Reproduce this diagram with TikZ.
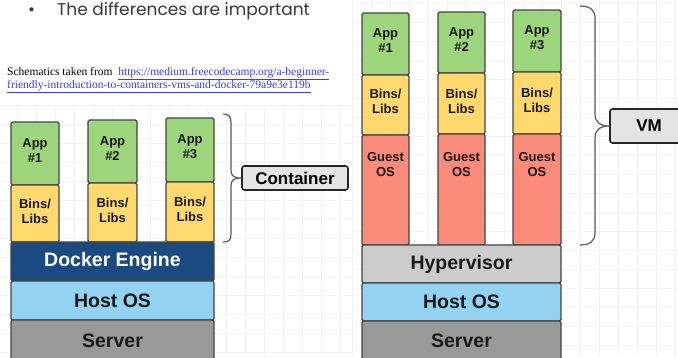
\documentclass[tikz,border=0pt]{standalone}
\usepackage{fontspec}
\setmainfont{Liberation Sans}
\newfontfamily\serifx{Liberation Serif}
\newfontfamily\gothic{Poppins}
\definecolor{appg}{HTML}{9DD57C}
\definecolor{binsy}{HTML}{FFD96E}
\definecolor{guestr}{HTML}{FA8A7A}
\definecolor{dockb}{HTML}{1A4A7F}
\definecolor{hostb}{HTML}{93D2F0}
\definecolor{servg}{HTML}{999999}
\definecolor{hypg}{HTML}{CCCCCC}
\definecolor{labg}{HTML}{E4E4E4}
\definecolor{edge}{HTML}{444444}
\definecolor{gridc}{HTML}{F2F2F2}
\definecolor{linkb}{HTML}{3A3AF0}
\begin{document}
\begin{tikzpicture}[x=1pt,y=-1pt,
  blk/.style={draw=edge,line width=1.1pt,rounded corners=1.5pt,inner sep=0pt,
    font=\bfseries,text=black!90,align=center},
  small/.style={font=\bfseries\fontsize{13}{15}\selectfont,align=center,text=black!90,inner sep=0pt},
  big/.style={font=\bfseries\fontsize{19.5}{22}\selectfont},
  brace/.style={draw=black!65,line width=1.2pt},
  tag/.style={draw=black!85,line width=1.6pt,rounded corners=2.5pt,fill=labg,inner sep=0pt,
    font=\bfseries\fontsize{17}{19}\selectfont}]
\useasboundingbox (0,0) rectangle (678,357);
\fill[white] (0,0) rectangle (678,357);
% grids
\begin{scope}
\clip (0,105) rectangle (352,357);
\foreach \i in {0,...,19} {\draw[gridc,line width=0.5pt] (\i*19-2,105) -- (\i*19-2,357);}
\foreach \j in {0,...,14} {\draw[gridc,line width=0.5pt] (0,105+\j*19) -- (352,105+\j*19);}
\end{scope}
\begin{scope}
\clip (352,0) rectangle (678,357);
\foreach \i in {0,...,18} {\draw[gridc,line width=0.5pt] (352+\i*19,0) -- (352+\i*19,357);}
\foreach \j in {0,...,19} {\draw[gridc,line width=0.5pt] (352,\j*19+3) -- (678,\j*19+3);}
\end{scope}
% title
\node[anchor=base west,text=black!78,font=\gothic\fontsize{17}{20}\selectfont,inner sep=0] (bul) at (28,15) {\textbullet};
\node[anchor=base west,text=black!78,font=\gothic\fontsize{17}{20}\selectfont,inner sep=0] (title) at (57,15) {The differences are important};
% source
\node[anchor=base west,inner sep=0,font=\serifx\fontsize{11.5}{13}\selectfont] (src1) at (7,75) {Schematics taken from\ \ \textcolor{linkb}{\underline{https://medium.freecodecamp.org/a-beginner-}}};
\node[anchor=base west,inner sep=0,font=\serifx\fontsize{11.5}{13}\selectfont,text=linkb] (src2) at (7,88) {\underline{friendly-introduction-to-containers-vms-and-docker-79a9e3e119b}};
% ---- container side ----
\node[blk,fill=appg,minimum width=48,minimum height=63] (ca1) at (35,153.5) {};
\node[small] (ca1t) at (35,151) {App\\\#1};
\node[blk,fill=binsy,minimum width=48,minimum height=57] (cb1) at (35,213.5) {};
\node[small] (cb1t) at (35,211) {Bins/\\Libs};
\node[blk,fill=appg,minimum width=49,minimum height=63] (ca2) at (112.5,151.5) {};
\node[small] (ca2t) at (112.5,149) {App\\\#2};
\node[blk,fill=binsy,minimum width=49,minimum height=59] (cb2) at (112.5,212.5) {};
\node[small] (cb2t) at (112.5,210) {Bins/\\Libs};
\node[blk,fill=appg,minimum width=48,minimum height=64] (ca3) at (190,150) {};
\node[small] (ca3t) at (190,147) {App\\\#3};
\node[blk,fill=binsy,minimum width=48,minimum height=60] (cb3) at (190,212) {};
\node[small] (cb3t) at (190,209) {Bins/\\Libs};
\node[blk,big,fill=dockb,text=white,minimum width=203,minimum height=39] (dock) at (112.5,261.5) {Docker Engine};
\node[blk,big,fill=hostb,minimum width=203,minimum height=39] (chost) at (112.5,300.5) {Host OS};
\node[blk,big,fill=servg,minimum width=203,minimum height=42] (cserv) at (112.5,341) {Server};
% brace + label
\coordinate (cbtop) at (223,114);
\coordinate (cbbot) at (223,242);
\node[tag,minimum width=106,minimum height=24] (ctag) at (295,178) {Container};
\draw[brace] (cbtop) .. controls (229,114) and (231,117) .. (231,123) -- (231,170)
  .. controls (231,176) and (234,178) .. (ctag.west)
  .. controls (234,178) and (231,180) .. (231,186) -- (231,234)
  .. controls (231,240) and (229,242) .. (cbbot);
% ---- VM side ----
\node[blk,fill=appg,minimum width=47,minimum height=62] (va1) at (385.5,44) {};
\node[small] (va1t) at (385.5,41) {App\\\#1};
\node[blk,fill=binsy,minimum width=47,minimum height=60] (vb1) at (385.5,105) {};
\node[small] (vb1t) at (385.5,101) {Bins/\\Libs};
\node[blk,fill=guestr,minimum width=47,minimum height=110] (vg1) at (385.5,190) {};
\node[small] (vg1t) at (385.5,165) {Guest\\OS};
\node[blk,fill=appg,minimum width=47,minimum height=61] (va2) at (461.5,42.5) {};
\node[small] (va2t) at (461.5,40) {App\\\#2};
\node[blk,fill=binsy,minimum width=47,minimum height=61] (vb2) at (461.5,103.5) {};
\node[small] (vb2t) at (461.5,101) {Bins/\\Libs};
\node[blk,fill=guestr,minimum width=47,minimum height=111] (vg2) at (461.5,189.5) {};
\node[small] (vg2t) at (461.5,165) {Guest\\OS};
\node[blk,fill=appg,minimum width=48,minimum height=62] (va3) at (537,41) {};
\node[small] (va3t) at (537,38) {App\\\#3};
\node[blk,fill=binsy,minimum width=48,minimum height=62] (vb3) at (537,103) {};
\node[small] (vb3t) at (537,100) {Bins/\\Libs};
\node[blk,fill=guestr,minimum width=48,minimum height=111] (vg3) at (537,189.5) {};
\node[small] (vg3t) at (537,165) {Guest\\OS};
\node[blk,big,fill=hypg,minimum width=199,minimum height=38] (hyp) at (461.5,264) {Hypervisor};
\node[blk,big,fill=hostb,minimum width=199,minimum height=38] (vhost) at (461.5,302) {Host OS};
\node[blk,big,fill=servg,minimum width=199,minimum height=40] (vserv) at (461.5,341) {Server};
\coordinate (vbtop) at (580,6);
\coordinate (vbbot) at (580,245);
\node[tag,minimum width=78,minimum height=34] (vtag) at (649,126) {VM};
\draw[brace] (vbtop) .. controls (590,6) and (595,10) .. (595,18) -- (595,114)
  .. controls (595,122) and (600,126) .. (vtag.west)
  .. controls (600,126) and (595,130) .. (595,138) -- (595,233)
  .. controls (595,241) and (590,245) .. (vbbot);
\end{tikzpicture}
\end{document}
